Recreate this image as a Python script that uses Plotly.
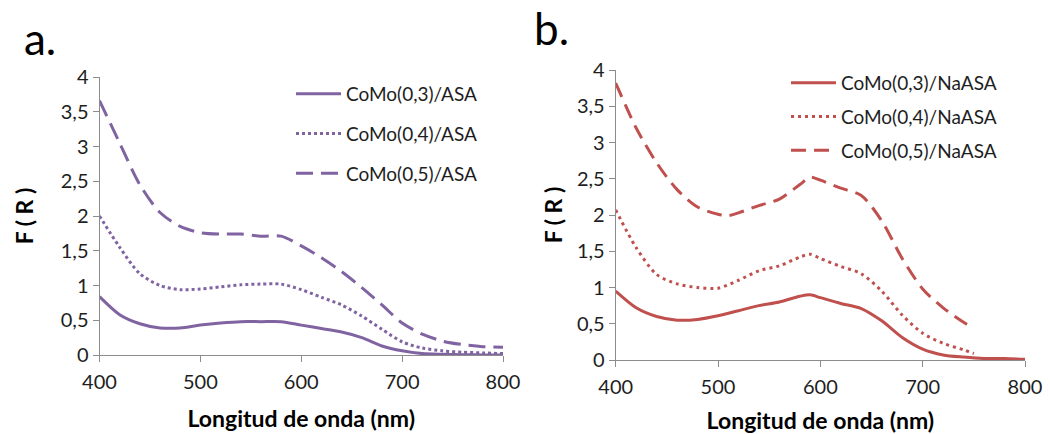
import plotly.graph_objects as go

# ---------------- data ----------------
wl_asa = [400, 420, 440, 460, 480, 500, 520, 540, 560, 580, 600, 620, 640, 660, 680, 700, 720, 740, 760, 780, 800]
asa_03 = [0.84, 0.58, 0.45, 0.39, 0.39, 0.43, 0.46, 0.48, 0.48, 0.48, 0.43, 0.38, 0.33, 0.25, 0.13, 0.06, 0.02, 0.01, 0.005, 0.0, 0.0]
asa_04 = [2.00, 1.55, 1.17, 1.00, 0.94, 0.95, 0.98, 1.01, 1.02, 1.02, 0.94, 0.83, 0.72, 0.56, 0.37, 0.19, 0.10, 0.06, 0.04, 0.03, 0.02]
asa_05 = [3.66, 3.05, 2.45, 2.05, 1.85, 1.76, 1.74, 1.74, 1.71, 1.71, 1.57, 1.40, 1.20, 0.97, 0.72, 0.46, 0.30, 0.20, 0.15, 0.12, 0.11]

wl_na_03 = [400, 420, 440, 460, 480, 500, 520, 540, 560, 580, 590, 600, 620, 640, 660, 680, 700, 720, 740, 760, 780, 800]
na_03 = [0.95, 0.72, 0.60, 0.55, 0.56, 0.61, 0.68, 0.75, 0.80, 0.88, 0.90, 0.86, 0.78, 0.71, 0.54, 0.31, 0.15, 0.07, 0.04, 0.02, 0.02, 0.01]
wl_na_04 = [400, 420, 440, 460, 480, 500, 520, 540, 560, 580, 590, 600, 620, 640, 660, 680, 700, 720, 740, 750]
na_04 = [2.07, 1.55, 1.18, 1.05, 1.00, 0.99, 1.10, 1.23, 1.30, 1.42, 1.46, 1.40, 1.29, 1.19, 0.95, 0.62, 0.37, 0.23, 0.14, 0.09]
wl_na_05 = [400, 420, 440, 460, 480, 500, 510, 520, 540, 560, 580, 590, 600, 620, 640, 660, 680, 700, 720, 740, 750]
na_05 = [3.82, 3.20, 2.72, 2.35, 2.11, 2.01, 1.99, 2.03, 2.13, 2.22, 2.42, 2.52, 2.48, 2.37, 2.27, 1.92, 1.40, 0.98, 0.72, 0.52, 0.44]

names_asa = ["CoMo(0,3)/ASA", "CoMo(0,4)/ASA", "CoMo(0,5)/ASA"]
names_na = ["CoMo(0,3)/NaASA", "CoMo(0,4)/NaASA", "CoMo(0,5)/NaASA"]

x_ticks = [400, 500, 600, 700, 800]
y_ticks = [0, 0.5, 1, 1.5, 2, 2.5, 3, 3.5, 4]
y_ticktext = ["0", "0,5", "1", "1,5", "2", "2,5", "3", "3,5", "4"]

x_title = "Longitud de onda (nm)"
y_title = "F ( R )"
panel_labels = ["a.", "b."]

PURPLE = "#8064A2"
RED = "#C0504D"
FONT = "Lato"
TXT = "#1e1e1e"
AXC = "#8c8c8c"

W, H = 1050, 434

fig = go.Figure()

asa_dash = ["solid", "3px,3px", "17px,8px"]
na_dash = ["solid", "3px,4px", "15px,8px"]

for i, (ys, nm) in enumerate(zip([asa_03, asa_04, asa_05], names_asa)):
    fig.add_trace(go.Scatter(
        x=wl_asa, y=ys, name=nm, mode="lines",
        line=dict(color=PURPLE, width=3, dash=asa_dash[i], shape="spline", smoothing=0.8),
        xaxis="x", yaxis="y", legend="legend", legendgroup="a%d" % i))

for i, (xs, ys, nm) in enumerate(zip([wl_na_03, wl_na_04, wl_na_05], [na_03, na_04, na_05], names_na)):
    fig.add_trace(go.Scatter(
        x=xs, y=ys, name=nm, mode="lines",
        line=dict(color=RED, width=3, dash=na_dash[i], shape="spline", smoothing=0.8),
        xaxis="x2", yaxis="y2", legend="legend2", legendgroup="b%d" % i))


def px_x(p):
    return p / W


def px_y(p):
    return 1 - p / H


axis_common = dict(
    showgrid=False, zeroline=False, showline=True, linecolor=AXC, linewidth=1,
    ticks="outside", ticklen=6, tickcolor=AXC, tickwidth=1, automargin=False,
    tickfont=dict(family=FONT, size=20, color=TXT),
)
title_font = dict(family=FONT, size=23, color="black")

fig.update_layout(
    width=W, height=H,
    margin=dict(l=0, r=0, t=0, b=0, autoexpand=False),
    paper_bgcolor="white", plot_bgcolor="white",
    font=dict(family=FONT, color=TXT),
    xaxis=dict(domain=[px_x(99.5), px_x(503)], range=[400, 800], tickvals=x_ticks, anchor="y",
               ticklabelstandoff=3,
               title=dict(text="<b>%s</b>" % x_title, font=title_font, standoff=18),
               **axis_common),
    yaxis=dict(domain=[px_y(355), px_y(77)], range=[0, 4], tickvals=y_ticks, ticktext=y_ticktext, anchor="x",
               ticklabelstandoff=0,
               title=dict(text="<b>%s</b>" % y_title, font=title_font, standoff=20),
               **axis_common),
    xaxis2=dict(domain=[px_x(615.7), px_x(1025)], range=[400, 800], tickvals=x_ticks, anchor="y2",
                ticklabelstandoff=3,
                title=dict(text="<b>%s</b>" % x_title, font=title_font, standoff=20),
                **axis_common),
    yaxis2=dict(domain=[px_y(360), px_y(70)], range=[0, 4], tickvals=y_ticks, ticktext=y_ticktext, anchor="x2",
                ticklabelstandoff=0,
                title=dict(text="<b>%s</b>" % y_title, font=title_font, standoff=7),
                **axis_common),
    legend=dict(x=px_x(291), y=px_y(75), xanchor="left", yanchor="top", bgcolor="rgba(0,0,0,0)",
                font=dict(family=FONT, size=19, color=TXT), tracegroupgap=12, itemwidth=45),
    legend2=dict(x=px_x(786), y=px_y(64), xanchor="left", yanchor="top", bgcolor="rgba(0,0,0,0)",
                 font=dict(family=FONT, size=19, color=TXT), tracegroupgap=6, itemwidth=45),
    showlegend=True,
    annotations=[
        dict(text=panel_labels[0], x=px_x(22), y=px_y(38), xref="paper", yref="paper", xanchor="left",
             yanchor="middle", showarrow=False, font=dict(family=FONT, size=44, color="black")),
        dict(text=panel_labels[1], x=px_x(532), y=px_y(28), xref="paper", yref="paper", xanchor="left",
             yanchor="middle", showarrow=False, font=dict(family=FONT, size=44, color="black")),
    ],
)

fig.write_html("out.html", post_script="document.body.style.margin='0';",
               config={"displayModeBar": False})
